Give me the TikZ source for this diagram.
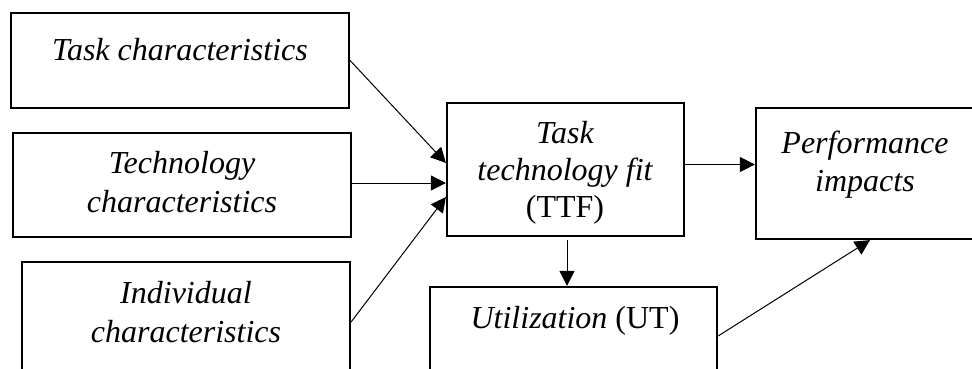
\documentclass[tikz,border=0pt]{standalone}
\usepackage{fontspec}
\setmainfont{Liberation Serif}[ItalicFont={Liberation Serif Italic},BoldFont={Liberation Serif Bold}]
\usetikzlibrary{arrows.meta}
\begin{document}
\begin{tikzpicture}[x=1pt,y=-1pt,
  box/.style={draw,line width=2.2pt,inner sep=0pt},
  lbl/.style={anchor=base,inner sep=0pt,font=\fontsize{32}{38}\selectfont\itshape},
  lblup/.style={anchor=base,inner sep=0pt,font=\fontsize{32}{38}\selectfont},
  conn/.style={line width=1pt,-{Triangle[length=15pt,width=15pt]}}]
\useasboundingbox (0,0) rectangle (972,369);
\clip (0,0) rectangle (972,369);
\node[box,minimum width=338pt,minimum height=95pt] (t1) at (180,60.5) {};
\node[box,minimum width=338pt,minimum height=104pt] (t2) at (182,185) {};
\node[box,minimum width=328pt,minimum height=138pt] (t3) at (186,331) {};
\node[box,minimum width=237pt,minimum height=133pt] (ttf) at (565.5,169.5) {};
\node[box,minimum width=254pt,minimum height=131pt] (perf) at (883,173.5) {};
\node[box,minimum width=287pt,minimum height=123pt] (ut) at (573.5,348.5) {};
\node[lbl] (l1) at (180,60) {Task characteristics};
\node[lbl] (l2a) at (182,173) {Technology};
\node[lbl] (l2b) at (182,212) {characteristics};
\node[lbl] (l3a) at (186,303) {Individual};
\node[lbl] (l3b) at (186,342) {characteristics};
\node[lbl] (l4a) at (565,143) {Task};
\node[lbl] (l4b) at (565,180) {technology fit};
\node[lblup] (l4c) at (565,217) {(TTF)};
\node[lbl] (l5a) at (865,153) {Performance};
\node[lbl] (l5b) at (865,191) {impacts};
\node[lbl] (l6) at (575,328) {Utilization \upshape(UT)};
\draw[conn] (t1.east) -- ([yshift=6.5pt]ttf.west);
\draw[conn] ([yshift=2pt]t2.east) -- ([yshift=-13.5pt]ttf.west);
\draw[conn] ([yshift=9pt]t3.east) -- ([yshift=-27.5pt]ttf.west);
\draw[conn] ([yshift=5pt]ttf.east) -- ([yshift=5pt]ttf.east -| perf.west);
\draw[conn] ([xshift=1.5pt,yshift=-3pt]ttf.south) -- ([xshift=1.5pt]ttf.south |- ut.north);
\draw[conn] ([yshift=12.5pt]ut.east) -- ([xshift=-13pt]perf.south);
\end{tikzpicture}
\end{document}
